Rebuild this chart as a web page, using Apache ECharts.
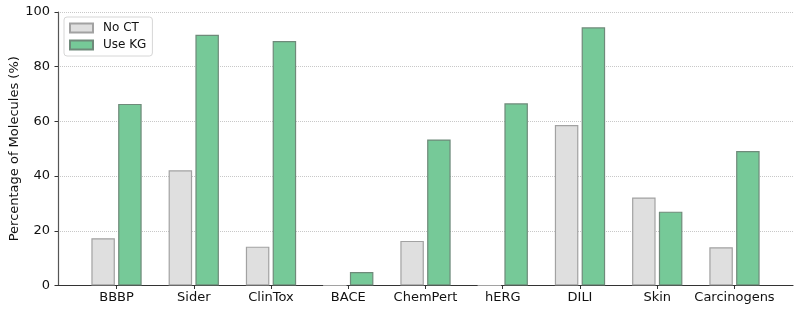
<!DOCTYPE html>
<html><head><meta charset="utf-8">
<script src="https://cdn.jsdelivr.net/npm/echarts@6/dist/echarts.min.js"></script>
<style>html,body{margin:0;padding:0;background:#fff}#c{width:797px;height:311px}</style>
</head><body><div id="c"></div>
<script>
const categories = ['BBBP','Sider','ClinTox','BACE','ChemPert','hERG','DILI','Skin','Carcinogens'];
const noCT = [17.3, 42.1, 14.2, 0, 16.3, 0, 58.7, 32.2, 14.0];
const useKG = [66.4, 91.7, 89.4, 4.9, 53.4, 66.6, 94.4, 27.0, 49.2];
const yTicks = [0, 20, 40, 60, 80, 100];

const font = 'DejaVu Sans';
const chart = echarts.init(document.getElementById('c'));
const idx = categories.map((c, i) => i);
chart.setOption({
  animation: false,
  backgroundColor: '#fff',
  textStyle: {fontFamily: font},
  grid: {left: 58, right: 4, top: 12, bottom: 25.5, containLabel: false, outerBoundsMode: 'none'},
  legend: {
    orient: 'vertical', left: 64, top: 17,
    icon: 'rect',
    itemWidth: 23, itemHeight: 9, itemGap: 5,
    padding: [5, 6, 5, 5],
    backgroundColor: '#fff', borderColor: '#d6d6d6', borderWidth: 1, borderRadius: 3,
    textStyle: {fontFamily: font, fontSize: 12, color: '#111', padding: [0, 0, 0, 5]},
    data: ['No CT', 'Use KG']
  },
  xAxis: {
    type: 'value', min: -0.7575, max: 8.7575,
    splitLine: {show: false},
    axisLine: {show: true, onZero: false, lineStyle: {color: '#333', width: 1.2}},
    axisTick: {show: true, length: 3.5, customValues: idx, lineStyle: {color: '#333'}},
    axisLabel: {customValues: idx, margin: 6, fontSize: 13, color: '#111', fontFamily: font,
      formatter: v => categories[Math.round(v)]}
  },
  yAxis: {
    type: 'value', min: 0, max: 100, interval: 20,
    name: 'Percentage of Molecules (%)', nameLocation: 'middle', nameGap: 37,
    nameMoveOverlap: false,
    nameTextStyle: {fontSize: 13, color: '#111', fontFamily: font},
    axisLine: {show: true, onZero: false, lineStyle: {color: '#555', width: 1.2}},
    axisTick: {show: true, length: 3.5, lineStyle: {color: '#333'}},
    axisLabel: {margin: 8, fontSize: 13, color: '#111', fontFamily: font,
      formatter: v => yTicks.includes(v) ? String(v) : ''},
    splitLine: {show: true, lineStyle: {color: '#c8c8c8', type: 'dotted', width: 1}}
  },
  series: [
    {name: 'No CT', type: 'bar', barWidth: 23.5, barGap: '14%',
     itemStyle: {color: '#dfdfdf', borderColor: '#a2a2a2', borderWidth: 1.2},
     data: idx.map(i => [i, noCT[i]])},
    {name: 'Use KG', type: 'bar', barWidth: 23.5, barGap: '14%',
     itemStyle: {color: '#76c998', borderColor: '#6f8a7a', borderWidth: 1.2},
     data: idx.map(i => [i, useKG[i]])}
  ]
});
</script></body></html>
